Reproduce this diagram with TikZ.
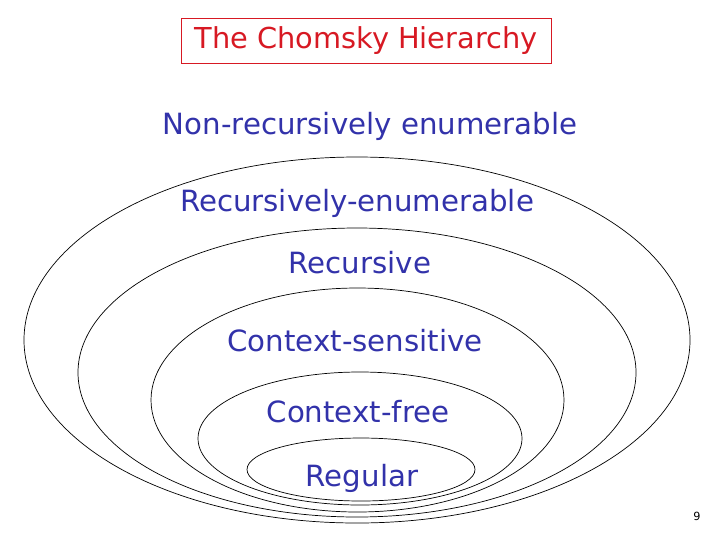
\documentclass[tikz,border=0pt]{standalone}
\usepackage{fontspec}
\setmainfont{DejaVu Sans}
\definecolor{setblue}{RGB}{50,50,170}
\definecolor{titlered}{RGB}{215,25,35}
\begin{document}
\begin{tikzpicture}[
  x=0.025cm, y=-0.025cm,
  lang/.style={text=setblue, font=\fontsize{20.8}{24}\selectfont, inner sep=0pt},
  set/.style={draw=black, line width=0.5pt},
]
\useasboundingbox (0,0) rectangle (720,540);

% --- Title box ---
\node[draw=titlered, text=titlered, font=\fontsize{20.5}{24}\selectfont,
  minimum width=263pt, minimum height=32pt, inner sep=0pt] (title) at (366,41) {The Chomsky Hierarchy};

% --- Nested language classes, all sagging to the bottom ---
\draw[set] (357,340)   ellipse [x radius=333, y radius=183];
\draw[set] (357,372.5) ellipse [x radius=279, y radius=144.5];
\draw[set] (357.5,400) ellipse [x radius=206.5, y radius=112];
\draw[set] (360,438.5) ellipse [x radius=162, y radius=66.5];
\draw[set] (361,469.5) ellipse [x radius=114, y radius=31.5];

% --- Class names ---
\node[lang] (nonre) at (370,126) {Non-recursively enumerable};
\node[lang] (re)    at (357,203) {Recursively-enumerable};
\node[lang] (rec)   at (360,263) {Recursive};
\node[lang] (cs)    at (355,341) {Context-sensitive};
\node[lang] (cf)    at (358,412) {Context-free};
\node[lang] (reg)   at (362,478) {Regular};

% page number
\node[font=\fontsize{8}{9}\selectfont] (page) at (697,516) {9};

\end{tikzpicture}
\end{document}
